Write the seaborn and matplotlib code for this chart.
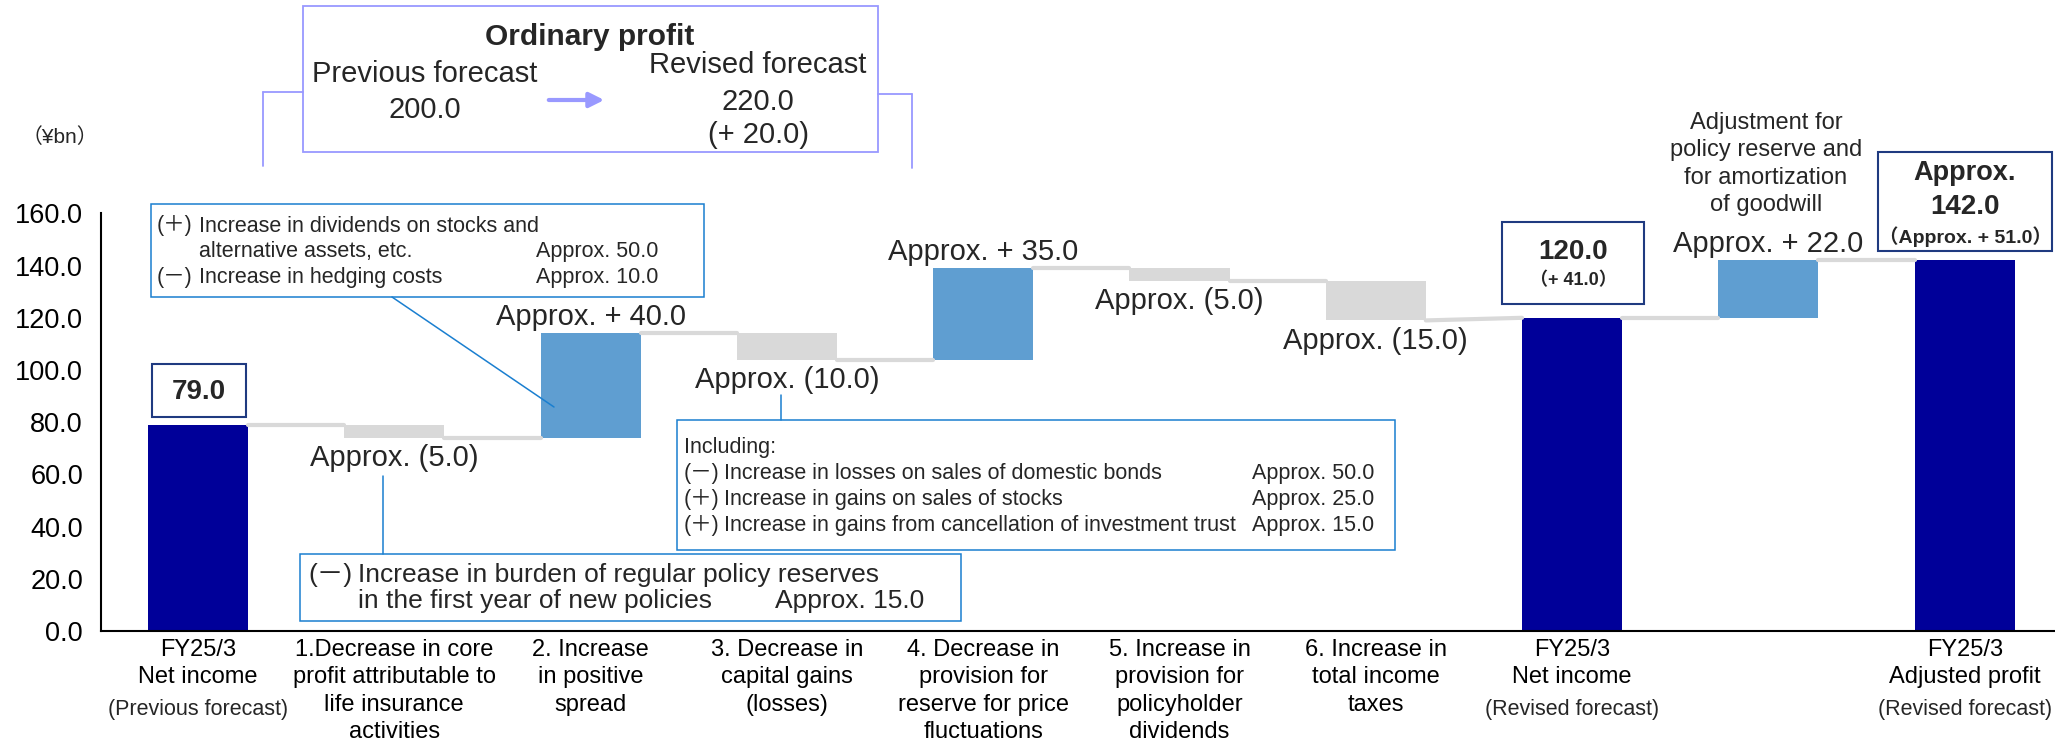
import matplotlib
matplotlib.use("Agg")
import matplotlib.pyplot as plt
import pandas as pd
import seaborn as sns
from matplotlib.lines import Line2D
from matplotlib.patches import FancyArrowPatch, Rectangle
from matplotlib.transforms import Affine2D

# ---- data ----
steps = ["prev", "core", "spread", "capital", "price", "dividends", "taxes", "net", "adjust", "adjusted"]
values = [79.0, -5.0, 40.0, -10.0, 35.0, -5.0, -15.0, 120.0, 22.0, 142.0]
is_total = [True, False, False, False, False, False, False, True, False, True]
tick_main = [
    "FY25/3\nNet income",
    "1.Decrease in core\nprofit attributable to\nlife insurance\nactivities",
    "2. Increase\nin positive\nspread",
    "3. Decrease in\ncapital gains\n(losses)",
    "4. Decrease in\nprovision for\nreserve for price\nfluctuations",
    "5. Increase in\nprovision for\npolicyholder\ndividends",
    "6. Increase in\ntotal income\ntaxes",
    "FY25/3\nNet income",
    "",
    "FY25/3\nAdjusted profit",
]
tick_sub = ["(Previous forecast)", "", "", "", "", "", "", "(Revised forecast)", "", "(Revised forecast)"]
step_labels = ["", "Approx. (5.0)", "Approx. + 40.0", "Approx. (10.0)", "Approx. + 35.0",
               "Approx. (5.0)", "Approx. (15.0)", "", "Approx. + 22.0", ""]
yticks = [0, 20, 40, 60, 80, 100, 120, 140, 160]

NAVY, UP, DOWN, LINK = "#000099", "#5f9ed1", "#d9d9d9", "#d9d9d9"
BOXBLUE, BOXNAVY, PURPLE = "#1a7fd0", "#1f3a80", "#9999ff"

# waterfall levels
bottoms, tops, starts, ends = [], [], [], []
run = 0.0
for v, tot in zip(values, is_total):
    if tot:
        bottoms.append(0.0); tops.append(v); starts.append(v); ends.append(v); run = v
    else:
        starts.append(run)
        bottoms.append(min(run, run + v)); tops.append(max(run, run + v))
        run += v
        ends.append(run)
colors = [NAVY if t else (UP if v > 0 else DOWN) for v, t in zip(values, is_total)]
df = pd.DataFrame({"step": steps, "top": tops})

sns.set_theme(style="white")
plt.rcParams["font.family"] = ["Liberation Sans", "Noto Sans CJK JP"]

W, H = 2055, 748
fig = plt.figure(figsize=(W / 100, H / 100), dpi=100)
ax = fig.add_axes([101 / W, 117 / H, (W - 101) / W, (631 - 213.4) / H])
px = Affine2D().scale(1 / W, -1 / H).translate(0, 1) + fig.transFigure

sns.barplot(data=df, x="step", y="top", hue="step", palette=dict(zip(steps, colors)),
            legend=False, width=0.51, saturation=1, linewidth=0, ax=ax)
for patch, b, t in zip(ax.patches, bottoms, tops):
    patch.set_y(b)
    patch.set_height(t - b)

# connectors
hw = 0.51 / 2
for i in range(len(values) - 1):
    ax.plot([i + hw, i + 1 - hw], [ends[i], starts[i + 1]], color=LINK, lw=3, zorder=1)

# step labels
for i, s in enumerate(step_labels):
    if not s:
        continue
    if values[i] > 0:
        ax.annotate(s, xy=(i, tops[i]), xytext=(0, 11.5), textcoords="offset points",
                    ha="center", va="center", fontsize=21)
    else:
        ax.annotate(s, xy=(i, bottoms[i]), xytext=(0, -14.5), textcoords="offset points",
                    ha="center", va="center", fontsize=21)

ax.set_xlim(-0.494, 9.46)
ax.set_ylim(0, 160)
ax.set_yticks(yticks)
ax.set_yticklabels([f"{t:.1f}" for t in yticks], fontsize=19.5)
ax.set_xticks(range(len(steps)))
ax.set_xticklabels(tick_main, fontsize=17, linespacing=1.3)
ax.tick_params(axis="y", length=0, pad=13, colors="black")
ax.tick_params(axis="x", length=0, pad=6, colors="black")
ax.set_xlabel("")
ax.set_ylabel("")
for side in ["top", "right"]:
    ax.spines[side].set_visible(False)
for side in ["left", "bottom"]:
    ax.spines[side].set_color("black")
    ax.spines[side].set_linewidth(1.5)
for i, s in enumerate(tick_sub):
    if s:
        ax.text(i, -0.187, s, transform=ax.get_xaxis_transform(), ha="center", va="center",
                fontsize=15.5)

# unit
fig.text(60, 137, "（¥bn）", transform=px, ha="center", va="center", fontsize=15)


def box(x, y, w, h, ec, lw):
    fig.add_artist(Rectangle((x, y), w, h, transform=px, facecolor="white", edgecolor=ec, lw=lw))


def line(xs, ys, c, lw):
    fig.add_artist(Line2D(xs, ys, transform=px, color=c, lw=lw))


def txt(x, y, s, size, ha="left", weight="normal"):
    fig.text(x, y, s, transform=px, ha=ha, va="center", fontsize=size, fontweight=weight)


# ordinary profit box
line([263, 303], [92, 92], PURPLE, 1.3)
line([263, 263], [92, 166], PURPLE, 1.3)
line([878, 912], [94, 94], PURPLE, 1.3)
line([912, 912], [94, 168], PURPLE, 1.3)
box(303, 6, 575, 146, PURPLE, 1.3)
txt(590, 37, "Ordinary profit", 21.5, "center", "bold")
txt(425, 74, "Previous forecast", 21, "center")
txt(425, 110, "200.0", 21, "center")
txt(758, 65, "Revised forecast", 21, "center")
txt(758, 102, "220.0", 21, "center")
txt(758, 135, "(+ 20.0)", 21, "center")
fig.add_artist(FancyArrowPatch((546, 100), (607, 100), transform=px, arrowstyle="-|>",
                               mutation_scale=22, color=PURPLE, lw=3))

# total boxes
box(152, 364, 94, 53, BOXNAVY, 1.5)
txt(199, 392, "79.0", 20, "center", "bold")
box(1502, 222, 142, 82, BOXNAVY, 1.5)
txt(1573, 252, "120.0", 20, "center", "bold")
txt(1573, 281, "（+ 41.0）", 13, "center", "bold")
box(1878, 152, 174, 99, BOXNAVY, 1.5)
txt(1965, 173, "Approx.", 19.5, "center", "bold")
txt(1965, 207, "142.0", 20, "center", "bold")
txt(1965, 237, "（Approx. + 51.0）", 14, "center", "bold")

# adjustment note
fig.text(1766, 164, "Adjustment for\npolicy reserve and\nfor amortization\nof goodwill", transform=px,
         ha="center", va="center", fontsize=17, linespacing=1.3)

# detail box 1
line([392, 554], [297, 407], BOXBLUE, 1.1)
box(151, 204, 553, 93, BOXBLUE, 1.1)
txt(157, 226, "(＋)", 15.5)
txt(199, 226, "Increase in dividends on stocks and", 15.5)
txt(199, 252, "alternative assets, etc.", 15.5)
txt(536, 252, "Approx. 50.0", 15.5)
txt(157, 278, "(－)", 15.5)
txt(199, 278, "Increase in hedging costs", 15.5)
txt(536, 278, "Approx. 10.0", 15.5)

# detail box 2
line([781, 781], [395, 420], BOXBLUE, 1.1)
box(677, 420, 718, 130, BOXBLUE, 1.1)
txt(684, 448, "Including:", 15.5)
rows2 = [("(－)", "Increase in losses on sales of domestic bonds", "Approx. 50.0"),
         ("(＋)", "Increase in gains on sales of stocks", "Approx. 25.0"),
         ("(＋)", "Increase in gains from cancellation of investment trust", "Approx. 15.0")]
for k, (sgn, s, a) in enumerate(rows2):
    y = 474 + 26 * k
    txt(684, y, sgn, 15.5)
    txt(724, y, s, 15.5)
    txt(1252, y, a, 15.5)

# detail box 3
line([383, 383], [476, 554], BOXBLUE, 1.1)
box(300, 554, 661, 67, BOXBLUE, 1.1)
txt(308, 575, "(－)", 19)
txt(358, 575, "Increase in burden of regular policy reserves", 19)
txt(358, 601, "in the first year of new policies", 19)
txt(775, 601, "Approx. 15.0", 19)

fig.savefig("out.png", dpi=100)
